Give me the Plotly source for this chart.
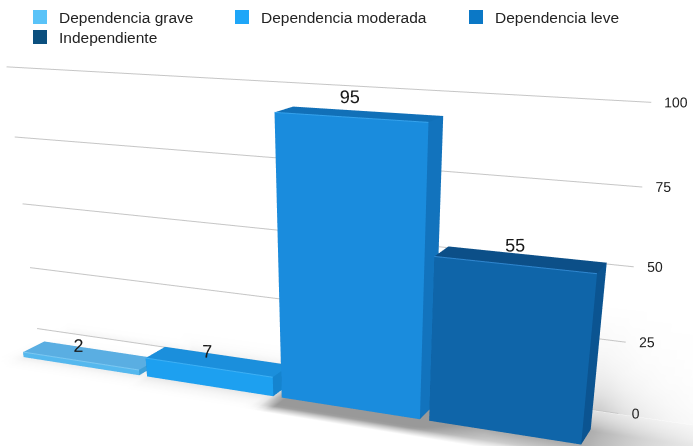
import numpy as np
import plotly.graph_objects as go

# ---- data -------------------------------------------------------------
categories = ["Dependencia grave", "Dependencia moderada", "Dependencia leve", "Independiente"]
values = [2, 7, 95, 55]
tick_values = [0, 25, 50, 75, 100]
tick_labels = ["0", "25", "50", "75", "100"]

# ---- colours ----------------------------------------------------------
legend_colors = ["#5ac3f8", "#1ea6f8", "#0b78c6", "#0b4f7e"]
front_colors = ["#55b8ee", "#1da0f0", "#1a8cdd", "#0f65a9"]
top_colors = ["#5aaee2", "#1b8fdc", "#1170b8", "#0c4f88"]
side_colors = ["#3d9fd8", "#1584cf", "#1273bd", "#0b5491"]
edge_colors = ["#7cc8f2", "#3db0f5", "#35a2ec", "#2f86cf"]
grid_color = "#c6c6c6"
FONT = "Liberation Sans, Arial, Helvetica, sans-serif"

# ---- scene geometry (x: category slot, y: depth, z: value) ------------
BAR_W = 0.94
BAR_D = 0.25
WALL_Y = 0.57
GRID_X = (-0.27, 4.07)
X_RANGE = [-0.6, 4.7]
Y_RANGE = [-0.3, 1.0]
Z_RANGE = [-1, 110]
Z_UNIT = 0.0185  # width units per value unit, keeps the scene isotropic
FLOOR_Z = -0.4
FLOOR_Y = (-0.25, WALL_Y + 0.005)
WALL_TOP = 40
LABEL_LIFT = 6  # value labels sit a little above the bar tops

FIG_W, FIG_H = 693, 1000

xs = X_RANGE[1] - X_RANGE[0]
ys = Y_RANGE[1] - Y_RANGE[0]
zs = (Z_RANGE[1] - Z_RANGE[0]) * Z_UNIT
k = 1.0 / xs
aspect = dict(x=xs * k, y=ys * k, z=zs * k)

# camera: above, in front of and to the right of the row of bars
yaw, pitch = np.radians(23.0), np.radians(26.0)
forward = np.array([-np.sin(yaw) * np.cos(pitch), np.cos(yaw) * np.cos(pitch), -np.sin(pitch)])
eye_world = np.array([5.24, -6.50, 2.80])
look_world = eye_world + 7.0 * forward


def to_scene(x, y, z_world):
    """World point -> plotly normalized scene coordinates."""
    return dict(
        x=(x - (X_RANGE[0] + X_RANGE[1]) / 2) * k,
        y=(y - (Y_RANGE[0] + Y_RANGE[1]) / 2) * k,
        z=(z_world - (Z_RANGE[0] + Z_RANGE[1]) / 2 * Z_UNIT) * k,
    )


def toward_eye(x, y, v, s=0.9):
    """Slide a point along its sight line so wall text is never hidden by the floor."""
    p = np.array([x, y, v * Z_UNIT])
    q = eye_world + s * (p - eye_world)
    return q[0], q[1], q[2] / Z_UNIT


def bar_span(i):
    x0 = i + (1 - BAR_W) / 2
    return x0, x0 + BAR_W


FLAT = dict(ambient=1, diffuse=0, specular=0, roughness=1, fresnel=0)


def box(x0, x1, y0, y1, z0, z1, front, top, side):
    vx = [x0, x1, x1, x0, x0, x1, x1, x0]
    vy = [y0, y0, y1, y1, y0, y0, y1, y1]
    vz = [z0, z0, z0, z0, z1, z1, z1, z1]
    tris = [
        (0, 1, 5, front), (0, 5, 4, front),
        (4, 5, 6, top), (4, 6, 7, top),
        (1, 2, 6, side), (1, 6, 5, side),
        (0, 3, 7, side), (0, 7, 4, side),
        (3, 2, 6, side), (3, 6, 7, side),
        (0, 1, 2, side), (0, 2, 3, side),
    ]
    return go.Mesh3d(
        x=vx, y=vy, z=vz,
        i=[t[0] for t in tris], j=[t[1] for t in tris], k=[t[2] for t in tris],
        facecolor=[t[3] for t in tris],
        flatshading=True, lighting=FLAT,
        hoverinfo="skip", showlegend=False,
    )


def grid_mesh(X, Y, Z, shade):
    """Shaded surface from a regular grid, shade 0 = white."""
    nb, na = X.shape
    ti, tj, tk = [], [], []
    for r in range(nb - 1):
        for c in range(na - 1):
            a = r * na + c
            ti += [a, a]
            tj += [a + 1, a + na + 1]
            tk += [a + na + 1, a + na]
    g = np.round(255 * (1 - np.clip(shade, 0, 0.4))).astype(int).ravel()
    return go.Mesh3d(x=X.ravel(), y=Y.ravel(), z=Z.ravel(), i=ti, j=tj, k=tk,
                     vertexcolor=[f"rgb({v},{v},{v})" for v in g],
                     lighting=FLAT, hoverinfo="skip", showlegend=False)


fig = go.Figure()

# soft floor shadows cast to the right of every bar
sx = np.linspace(X_RANGE[0], X_RANGE[1], 107)
sy = np.linspace(FLOOR_Y[0], FLOOR_Y[1], 23)
SX, SY = np.meshgrid(sx, sy)
shade = np.zeros_like(SX)
for i, v in enumerate(values):
    x0, x1 = bar_span(i)
    reach = 0.08 + 0.75 * v / 100
    along = np.exp(-np.clip(SX - x1, 0, None) / reach) * np.exp(-np.clip(x0 - SX, 0, None) / 0.05)
    dy = np.clip(np.abs(SY - BAR_D / 2) - BAR_D / 2, 0, None)
    across = np.exp(-dy / (0.06 + 0.45 * v / 100))
    shade = np.maximum(shade, (0.05 + 0.5 * v / 100) * along * across)
shade *= np.clip((SY - FLOOR_Y[0]) / 0.12, 0, 1)
fig.add_trace(grid_mesh(SX, SY, np.full(SX.shape, FLOOR_Z), shade))

# faint shading low on the back wall, just behind the gridlines
wx = np.linspace(X_RANGE[0], X_RANGE[1], 107)
wz = np.linspace(FLOOR_Z, WALL_TOP, 15)
WX, WZ = np.meshgrid(wx, wz)
wshade = np.zeros_like(WX)
for i, v in enumerate(values):
    x0, x1 = bar_span(i)
    reach = 0.05 + 0.4 * v / 100
    along = np.exp(-np.clip(WX - x1, 0, None) / reach) * np.exp(-np.clip(x0 - WX, 0, None) / 0.05)
    height = np.exp(-np.clip(WZ, 0, None) / (1 + 0.18 * v))
    wshade = np.maximum(wshade, (0.03 + 0.3 * v / 100) * along * height)
wshade *= np.clip((WALL_TOP - WZ) / 12, 0, 1)
fig.add_trace(grid_mesh(WX, np.full(WX.shape, WALL_Y + 0.01), WZ, wshade))

# back-wall gridlines
gx, gy, gz = [], [], []
for v in tick_values:
    gx += [GRID_X[0], GRID_X[1], None]
    gy += [WALL_Y, WALL_Y, None]
    gz += [v, v, None]
fig.add_trace(go.Scatter3d(x=gx, y=gy, z=gz, mode="lines",
                           line=dict(color=grid_color, width=2),
                           hoverinfo="skip", showlegend=False))

# value axis labels on the right end of the wall
tick_pts = [toward_eye(GRID_X[1], WALL_Y, v) for v in tick_values]
fig.add_trace(go.Scatter3d(
    x=[p[0] for p in tick_pts], y=[p[1] for p in tick_pts], z=[p[2] for p in tick_pts],
    mode="text", text=tick_labels, textposition="middle right",
    textfont=dict(family=FONT, size=14, color="#222222"),
    hoverinfo="skip", showlegend=False))

# bars
for i, v in enumerate(values):
    x0, x1 = bar_span(i)
    fig.add_trace(box(x0, x1, 0, BAR_D, 0, v, front_colors[i], top_colors[i], side_colors[i]))
    fig.add_trace(go.Scatter3d(x=[x0, x1], y=[0, 0], z=[v, v], mode="lines",
                               line=dict(color=edge_colors[i], width=2),
                               hoverinfo="skip", showlegend=False))

# value labels just above each bar
fig.add_trace(go.Scatter3d(
    x=[i + 0.5 for i in range(len(values))], y=[0] * len(values),
    z=[v + LABEL_LIFT for v in values],
    mode="text", text=[str(v) for v in values], textposition="middle center",
    textfont=dict(family=FONT, size=18, color="#1a1a1a"),
    hoverinfo="skip", showlegend=False))

hidden = dict(showbackground=False, showgrid=False, zeroline=False, showline=False,
              showticklabels=False, ticks="", showspikes=False, title=dict(text=""))
fig.update_layout(
    width=FIG_W, height=FIG_H,
    margin=dict(l=0, r=0, t=0, b=0),
    paper_bgcolor="white",
    showlegend=False,
    hovermode=False,
    scene=dict(
        domain=dict(x=[0, 1], y=[0, 1]),
        xaxis=dict(range=X_RANGE, autorange=False, **hidden),
        yaxis=dict(range=Y_RANGE, autorange=False, **hidden),
        zaxis=dict(range=Z_RANGE, autorange=False, **hidden),
        aspectmode="manual",
        aspectratio=aspect,
        camera=dict(eye=to_scene(*eye_world), center=to_scene(*look_world),
                    up=dict(x=0, y=0, z=1), projection=dict(type="perspective")),
        dragmode=False,
    ),
)

# legend: colour squares and names, two rows
legend_pos = [(33, 10), (235, 10), (469, 10), (33, 30)]
for name, col, (lx, ly) in zip(categories, legend_colors, legend_pos):
    fig.add_shape(type="rect", xref="paper", yref="paper",
                  x0=lx / FIG_W, x1=(lx + 14) / FIG_W,
                  y0=1 - ly / FIG_H, y1=1 - (ly + 14) / FIG_H,
                  fillcolor=col, line=dict(width=0))
    fig.add_annotation(xref="paper", yref="paper", x=(lx + 24) / FIG_W, y=1 - (ly + 7) / FIG_H,
                       text=name, showarrow=False, xanchor="left", yanchor="middle",
                       font=dict(family=FONT, size=15.5, color="#222222"))

fig.write_html("out.html", config=dict(displayModeBar=False))
